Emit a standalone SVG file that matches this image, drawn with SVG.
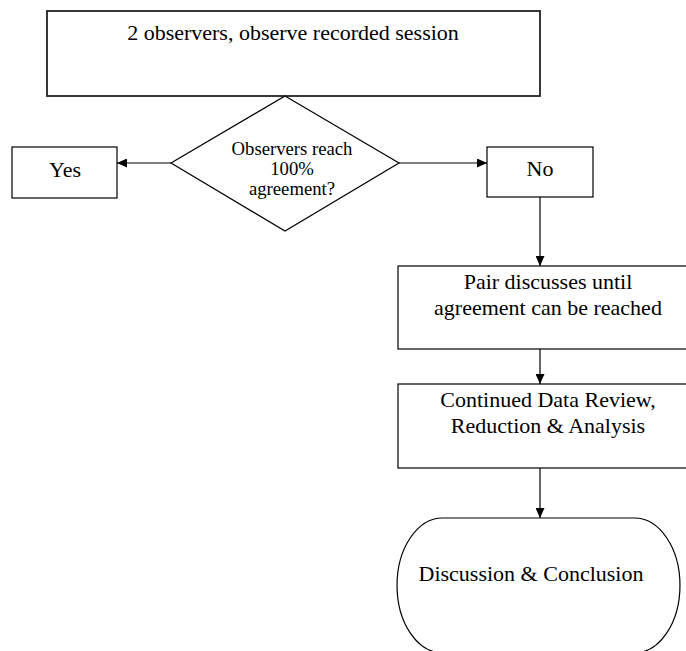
<svg xmlns="http://www.w3.org/2000/svg" width="686" height="651" viewBox="0 0 686 651">
<style>
.box{fill:#fff;stroke:#000;stroke-width:1.2}
.top{fill:#fff;stroke:#222;stroke-width:1.8}
.t{font-family:"Liberation Serif","Times New Roman",serif;font-size:22px;fill:#000;text-anchor:middle}
.s{font-family:"Liberation Serif","Times New Roman",serif;font-size:18.7px;fill:#000;text-anchor:middle}
.c{stroke:#000;stroke-width:1.2;fill:none;marker-end:url(#ah)}
</style>
<defs>
<marker id="ah" markerWidth="10" markerHeight="9" refX="10" refY="4.5" orient="auto" markerUnits="userSpaceOnUse">
<path d="M0,0 L10,4.5 L0,9 Z" fill="#000"/>
</marker>
</defs>
<g id="start">
<rect class="top" x="47" y="11" width="493" height="85"/>
<text class="t" x="293" y="40">2 observers, observe recorded session</text>
</g>
<g id="decision">
<polygon class="box" points="285,96 399,163 285,231 171,163"/>
<text class="s" x="292" y="155">Observers reach</text>
<text class="s" x="292" y="175">100%</text>
<text class="s" x="292" y="195">agreement?</text>
</g>
<g id="yes">
<rect class="box" x="12" y="147" width="105" height="51"/>
<text class="t" x="65" y="177">Yes</text>
</g>
<g id="no">
<rect class="box" x="487" y="147" width="106" height="50"/>
<text class="t" x="540" y="176">No</text>
</g>
<g id="pair">
<rect class="box" x="398" y="266" width="300" height="83"/>
<text class="t" x="548" y="289">Pair discusses until</text>
<text class="t" x="548" y="315">agreement can be reached</text>
</g>
<g id="review">
<rect class="box" x="398" y="384" width="300" height="84"/>
<text class="t" x="548" y="407">Continued Data Review,</text>
<text class="t" x="548" y="433">Reduction &amp; Analysis</text>
</g>
<g id="conclusion">
<path class="box" d="M442.5,518 H634.5 A45.5,67.4 0 0 1 634.5,652.8 H442.5 A45.5,67.4 0 0 1 442.5,518 Z"/>
<text class="t" x="531" y="581">Discussion &amp; Conclusion</text>
</g>
<g id="connectors">
<line class="c" x1="171" y1="163" x2="117" y2="163"/>
<line class="c" x1="399" y1="163" x2="487" y2="163"/>
<line class="c" x1="540" y1="197" x2="540" y2="266"/>
<line class="c" x1="540" y1="349" x2="540" y2="384"/>
<line class="c" x1="540" y1="468" x2="540" y2="518"/>
</g>
</svg>
